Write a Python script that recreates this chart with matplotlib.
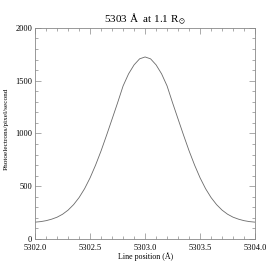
import matplotlib
matplotlib.use("Agg")
import matplotlib.pyplot as plt
from matplotlib.ticker import MultipleLocator, FormatStrFormatter

# Line profile (wavelength in Angstrom, counts)
wavelength = [5302.00, 5302.05, 5302.10, 5302.15, 5302.20, 5302.25, 5302.30, 5302.35,
              5302.40, 5302.45, 5302.50, 5302.55, 5302.60, 5302.65, 5302.70, 5302.75,
              5302.80, 5302.85, 5302.90, 5302.95, 5303.00, 5303.05, 5303.10, 5303.15,
              5303.20, 5303.25, 5303.30, 5303.35, 5303.40, 5303.45, 5303.50, 5303.55,
              5303.60, 5303.65, 5303.70, 5303.75, 5303.80, 5303.85, 5303.90, 5303.95,
              5304.00]
counts = [159, 164, 173, 187, 206, 234, 273, 325, 392, 476, 579, 700, 835, 983, 1136,
          1290, 1450, 1565, 1650, 1707, 1725, 1707, 1650, 1565, 1450, 1290, 1136, 983,
          835, 700, 579, 476, 392, 325, 273, 234, 206, 187, 173, 164, 159]

plt.rcParams['font.family'] = ['Liberation Serif', 'DejaVu Serif']
plt.rcParams['mathtext.fontset'] = 'stix'

fig = plt.figure(figsize=(2.74, 2.74), dpi=100)
ax = fig.add_axes([0.128, 0.128, 0.803, 0.770])
ax.plot(wavelength, counts, color='#6a6a6a', lw=0.6)
ax.set_xlim(5302.0, 5304.0)
ax.set_ylim(0, 2000)
ax.xaxis.set_major_locator(MultipleLocator(0.5))
ax.xaxis.set_minor_locator(MultipleLocator(0.1))
ax.yaxis.set_major_locator(MultipleLocator(500))
ax.yaxis.set_minor_locator(MultipleLocator(100))
ax.xaxis.set_major_formatter(FormatStrFormatter('%.1f'))
ax.tick_params(which='both', direction='in', top=True, right=True,
               labelsize=6, color='#888888', width=0.5)
ax.tick_params(axis='x', which='major', pad=3.5)
ax.tick_params(axis='y', which='major', pad=2)
ax.tick_params(which='major', length=4)
ax.tick_params(which='minor', length=2)
for s in ax.spines.values():
    s.set_color('#888888')
    s.set_linewidth(0.6)
ax.set_xlabel('Line position (Å)', fontsize=5.7, labelpad=0.5)
ax.set_ylabel('Photoelectrons/pixel/second', fontsize=5.2)
ax.yaxis.set_label_coords(-0.118, 0.524)
ax.set_title(r'5303 Å  at 1.1 R$_\odot$', fontsize=8, pad=4)
fig.savefig('out.png', dpi=100)
